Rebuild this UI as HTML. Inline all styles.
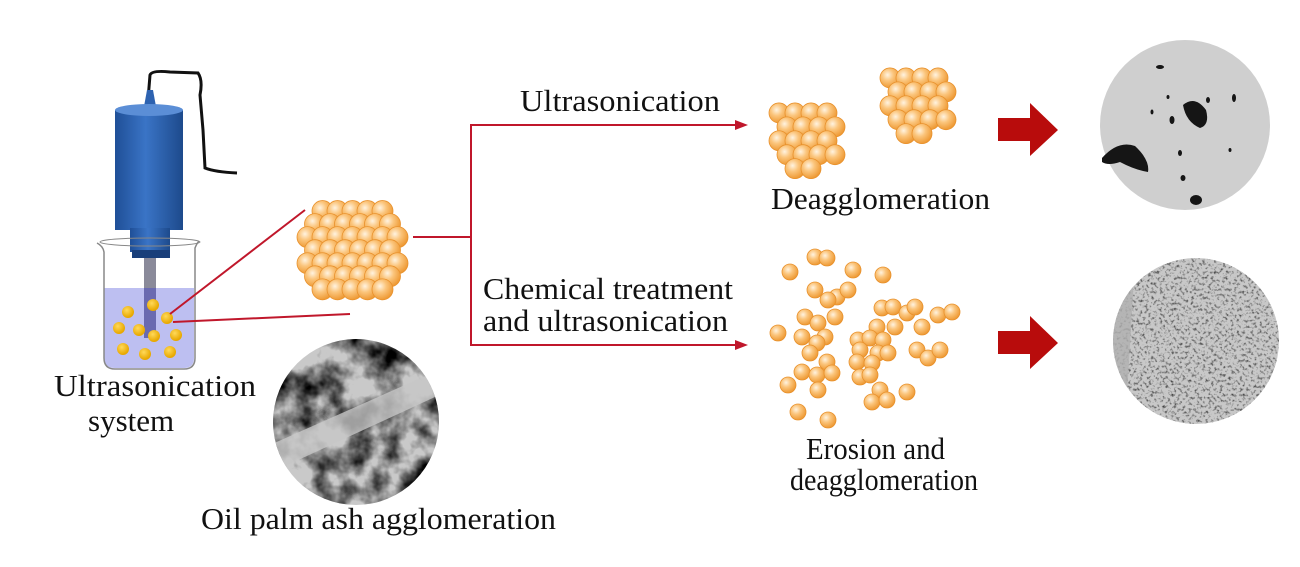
<!DOCTYPE html>
<html><head><meta charset="utf-8"><style>
html,body{margin:0;padding:0;background:#fff;}
svg{display:block;}
text{font-family:"Liberation Serif",serif;fill:#111;}
</style></head><body>
<svg id="s" width="1300" height="567" viewBox="0 0 1300 567" xmlns="http://www.w3.org/2000/svg">
<defs>
<radialGradient id="sp" cx="0.38" cy="0.35" r="0.65">
<stop offset="0" stop-color="#fff3e0"/><stop offset="0.45" stop-color="#fbc57c"/><stop offset="1" stop-color="#ee9a35"/>
</radialGradient>
<radialGradient id="yd" cx="0.4" cy="0.35" r="0.6">
<stop offset="0" stop-color="#ffd95a"/><stop offset="1" stop-color="#e8a800"/>
</radialGradient>
<linearGradient id="cyl" x1="0" x2="1">
<stop offset="0" stop-color="#1f4f97"/><stop offset="0.45" stop-color="#3a74c6"/><stop offset="1" stop-color="#1d4a8c"/>
</linearGradient>
<filter id="t1" x="0" y="0" width="1" height="1">
<feTurbulence type="fractalNoise" baseFrequency="0.035" numOctaves="4" seed="3"/>
<feColorMatrix type="matrix" values="0 0 0 0 0  0 0 0 0 0  0 0 0 0 0  -2.2 0 0 0 1.45"/>
</filter>
<filter id="t2" x="0" y="0" width="1" height="1">
<feTurbulence type="fractalNoise" baseFrequency="0.35" numOctaves="2" seed="7"/>
<feColorMatrix type="matrix" values="0 0 0 0 0  0 0 0 0 0  0 0 0 0 0  -2.5 0 0 0 1.25"/>
</filter>
<clipPath id="c1"><circle cx="356" cy="422" r="83"/></clipPath>
<clipPath id="c3"><circle cx="1196" cy="341" r="83"/></clipPath>
</defs>

<path d="M148,100 L150,75 Q152,70 170,72 L198,73 Q203,80 200,95 L203,130 L205,168 Q215,172 237,173" fill="none" stroke="#111" stroke-width="3"/>
<path d="M143,112 L147,90 L153,90 L157,112 Z" fill="#2d62b0"/>
<rect x="115" y="110" width="68" height="120" fill="url(#cyl)"/>
<ellipse cx="149" cy="110" rx="34" ry="6" fill="#5b8ed6"/>
<rect x="130" y="228" width="40" height="24" fill="url(#cyl)"/>
<rect x="132" y="250" width="38" height="8" fill="#1a3f7a"/>
<rect x="144" y="258" width="12" height="80" fill="#8a8a9a"/>
<path d="M104,288 L194,288 L194,358 Q194,368 184,368 L115,368 Q104,368 104,358 Z" fill="#b6b8f0" opacity="0.9"/>
<rect x="144" y="288" width="12" height="50" fill="#6a6ab0"/>
<path d="M97,243 Q103,246 104,252 L104,358 Q104,369 115,369 L184,369 Q195,369 195,358 L195,248 Q197,243 199,241" fill="none" stroke="#888" stroke-width="1.5"/>
<ellipse cx="150" cy="242" rx="50" ry="4" fill="none" stroke="#888" stroke-width="1"/>
<g fill="url(#yd)">
<circle cx="128" cy="312" r="6"/><circle cx="153" cy="305" r="6"/><circle cx="167" cy="318" r="6"/>
<circle cx="119" cy="328" r="6"/><circle cx="139" cy="330" r="6"/><circle cx="154" cy="336" r="6"/><circle cx="176" cy="335" r="6"/>
<circle cx="123" cy="349" r="6"/><circle cx="145" cy="354" r="6"/><circle cx="170" cy="352" r="6"/>
</g>
<g stroke="#c0172b" stroke-width="2" fill="none">
<line x1="170" y1="314" x2="305" y2="210"/>
<line x1="173" y1="322" x2="350" y2="314"/>
<line x1="413" y1="237" x2="471" y2="237"/>
<polyline points="745,125 471,125 471,345 745,345"/>
</g>
<path d="M735,120 L748,125 L735,130 Z" fill="#c0172b"/>
<path d="M735,340 L748,345 L735,350 Z" fill="#c0172b"/>
<g id="spheres"></g>

<g clip-path="url(#c1)">
<rect x="260" y="330" width="200" height="200" fill="#c9c9c9"/>
<rect x="260" y="330" width="200" height="200" filter="url(#t1)"/>
<path d="M270,445 L450,365 L450,390 L270,473 Z" fill="#c7c7c7" opacity="0.8"/>
</g>
<circle cx="1185" cy="125" r="85" fill="#cfcfcf"/>
<g fill="#151515">
<path d="M1102,158 Q1118,140 1135,146 Q1150,160 1148,172 Q1135,170 1120,162 Q1108,166 1102,162 Z"/>
<path d="M1183,105 Q1195,95 1206,110 Q1210,125 1200,128 Q1186,122 1183,105 Z"/>
<ellipse cx="1172" cy="120" rx="2.5" ry="4"/><ellipse cx="1152" cy="112" rx="1.5" ry="2.5"/>
<ellipse cx="1208" cy="100" rx="2" ry="3"/><ellipse cx="1234" cy="98" rx="2" ry="4"/>
<ellipse cx="1180" cy="153" rx="2" ry="3"/><ellipse cx="1160" cy="67" rx="4" ry="2"/>
<ellipse cx="1196" cy="200" rx="6" ry="5"/><ellipse cx="1183" cy="178" rx="2.5" ry="3"/>
<ellipse cx="1168" cy="97" rx="1.5" ry="2"/><ellipse cx="1230" cy="150" rx="1.5" ry="2"/>
</g>
<g clip-path="url(#c3)">
<rect x="1110" y="255" width="175" height="175" fill="#c8c8c8"/>
<rect x="1110" y="255" width="175" height="175" filter="url(#t2)" opacity="0.75"/>
<path d="M1110,270 L1135,260 L1125,430 L1110,430 Z" fill="#b0b0b0" opacity="0.8"/>
</g>
<path d="M998,118 L1030,118 L1030,103 L1058,130 L1030,156 L1030,141 L998,141 Z" fill="#b80c0c"/>
<path d="M998,331 L1030,331 L1030,316 L1058,343 L1030,369 L1030,354 L998,354 Z" fill="#b80c0c"/>

<g font-size="31">
<text x="54" y="396" textLength="202" lengthAdjust="spacingAndGlyphs">Ultrasonication</text>
<text x="88" y="431">system</text>
<text x="201" y="529" textLength="355" lengthAdjust="spacingAndGlyphs">Oil palm ash agglomeration</text>
<text x="520" y="111" textLength="200" lengthAdjust="spacingAndGlyphs">Ultrasonication</text>
<text x="483" y="299" textLength="250" lengthAdjust="spacingAndGlyphs">Chemical treatment</text>
<text x="483" y="331" textLength="245" lengthAdjust="spacingAndGlyphs">and ultrasonication</text>
<text x="771" y="209" textLength="219" lengthAdjust="spacingAndGlyphs">Deagglomeration</text>
<text x="806" y="459" textLength="139" lengthAdjust="spacingAndGlyphs">Erosion and</text>
<text x="790" y="490" textLength="188" lengthAdjust="spacingAndGlyphs">deagglomeration</text>
</g>
<script>
(function(){
var g=document.getElementById('spheres'),ns='http://www.w3.org/2000/svg';
function sp(x,y,r){var c=document.createElementNS(ns,'circle');c.setAttribute('cx',x);c.setAttribute('cy',y);c.setAttribute('r',r);c.setAttribute('fill','url(#sp)');c.setAttribute('stroke','#e8912c');c.setAttribute('stroke-width','0.8');g.appendChild(c);}
function cluster(cx,cy,R,r,step){var pts=[];for(var y=-R;y<=R;y+=step*0.87){var row=Math.round((y+R)/(step*0.87));for(var x=-R;x<=R;x+=step){var xx=x+(row%2?step/2:0);if(xx*xx+y*y<=R*R)pts.push([cx+xx,cy+y]);}}pts.sort(function(a,b){return a[1]-b[1];});pts.forEach(function(p){sp(p[0],p[1],r);});}
cluster(352,250,52,10.5,15);
cluster(807,135,36,10,16);
cluster(918,100,36,10,16);
var s=[[815,257],[827,258],[790,272],[853,270],[883,275],[815,290],[837,297],[828,300],[848,290],[778,333],[805,317],[818,323],[802,337],[825,337],[835,317],[817,343],[810,353],[827,362],[802,372],[817,375],[832,373],[788,385],[818,390],[798,412],[828,420],[882,308],[893,307],[907,313],[915,307],[938,315],[877,327],[895,327],[922,327],[858,340],[870,338],[883,340],[860,350],[878,353],[888,353],[857,362],[872,363],[917,350],[928,358],[860,377],[870,375],[880,390],[872,402],[887,400],[907,392],[940,350],[952,312]];
s.forEach(function(p){sp(p[0],p[1],8);});
})();
</script>
</svg>
</body></html>
